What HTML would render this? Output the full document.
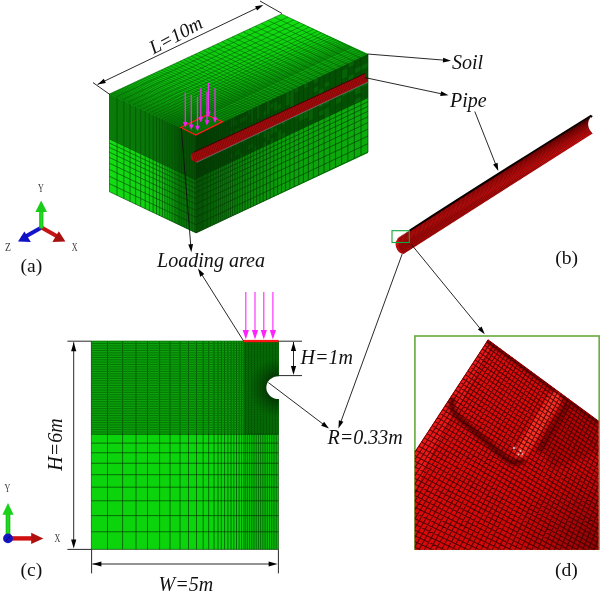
<!DOCTYPE html>
<html><head><meta charset="utf-8"><title>FE model of soil and pipe</title>
<style>html,body{margin:0;padding:0;background:#fff}svg{display:block}</style></head>
<body>
<svg width="600" height="606" viewBox="0 0 600 606">
<rect width="600" height="606" fill="#fff"/>
<defs>
<clipPath id="clipc"><rect x="91.4" y="341.2" width="187.2" height="208.2"/></clipPath>
<clipPath id="clipd"><rect x="415" y="336" width="184.4" height="213"/></clipPath>
<clipPath id="clipdd"><polygon points="488,339.6 598.4,420.8 598.4,549.8 414.9,549.8 414.9,451.5"/></clipPath>
<radialGradient id="holeg"><stop offset="0.38" stop-color="#033003" stop-opacity="0.85"/><stop offset="1" stop-color="#044004" stop-opacity="0"/></radialGradient>
<linearGradient id="topg" gradientUnits="userSpaceOnUse" x1="281.5" y1="14" x2="313" y2="80.9"><stop offset="0" stop-color="#056005" stop-opacity="0"/><stop offset="0.4" stop-color="#056005" stop-opacity="0.06"/><stop offset="0.7" stop-color="#056005" stop-opacity="0.3"/><stop offset="1" stop-color="#056005" stop-opacity="0.5"/></linearGradient>
<linearGradient id="topg2" gradientUnits="userSpaceOnUse" x1="109.5" y1="94" x2="171.9" y2="-37.9"><stop offset="0" stop-color="#087808" stop-opacity="0.42"/><stop offset="0.5" stop-color="#087808" stop-opacity="0.22"/><stop offset="1" stop-color="#087808" stop-opacity="0"/></linearGradient>
<linearGradient id="leftg" gradientUnits="userSpaceOnUse" x1="109" y1="0" x2="196" y2="0"><stop offset="0" stop-color="#043004" stop-opacity="0"/><stop offset="0.4" stop-color="#043004" stop-opacity="0.06"/><stop offset="0.78" stop-color="#043004" stop-opacity="0.26"/><stop offset="0.83" stop-color="#043004" stop-opacity="0.46"/><stop offset="1" stop-color="#043004" stop-opacity="0.52"/></linearGradient>
<linearGradient id="frontg" gradientUnits="userSpaceOnUse" x1="196" y1="0" x2="368" y2="0"><stop offset="0" stop-color="#043004" stop-opacity="0.5"/><stop offset="0.25" stop-color="#043004" stop-opacity="0.3"/><stop offset="0.55" stop-color="#043004" stop-opacity="0.08"/><stop offset="1" stop-color="#043004" stop-opacity="0"/></linearGradient>
<linearGradient id="pipeg" gradientUnits="userSpaceOnUse" x1="490" y1="172" x2="500" y2="190"><stop offset="0" stop-color="#2a0000"/><stop offset="0.22" stop-color="#8a0606"/><stop offset="0.5" stop-color="#c00c0c"/><stop offset="0.8" stop-color="#d21010"/><stop offset="1" stop-color="#b20a0a"/></linearGradient>
<linearGradient id="dg1" gradientUnits="userSpaceOnUse" x1="415" y1="336" x2="600" y2="549"><stop offset="0" stop-color="#ea1010"/><stop offset="0.5" stop-color="#d80b0b"/><stop offset="1" stop-color="#ca0707"/></linearGradient>
<radialGradient id="dg2" gradientUnits="userSpaceOnUse" cx="600" cy="549" r="90"><stop offset="0" stop-color="#5a0000" stop-opacity="0.55"/><stop offset="1" stop-color="#5a0000" stop-opacity="0"/></radialGradient>
<linearGradient id="gsh" gradientUnits="userSpaceOnUse" x1="39" y1="0" x2="43.6" y2="0"><stop offset="0" stop-color="#12b012"/><stop offset="0.5" stop-color="#22e422"/><stop offset="1" stop-color="#12b012"/></linearGradient>
<linearGradient id="gsh2" gradientUnits="userSpaceOnUse" x1="5.6" y1="0" x2="10.4" y2="0"><stop offset="0" stop-color="#12b012"/><stop offset="0.5" stop-color="#22e422"/><stop offset="1" stop-color="#12b012"/></linearGradient>
<filter id="blur15" x="-30%" y="-30%" width="160%" height="160%"><feGaussianBlur stdDeviation="1.6"/></filter>
<filter id="blur1" x="-20%" y="-20%" width="140%" height="140%"><feGaussianBlur stdDeviation="1.2"/></filter>
<filter id="blur2" x="-30%" y="-30%" width="160%" height="160%"><feGaussianBlur stdDeviation="2.2"/></filter>
</defs>
<g id="meshc">
<rect x="91.4" y="341.2" width="187.2" height="208.2" fill="#0cd40c"/>
<rect x="91.4" y="341.2" width="187.2" height="93.07" fill="#0ba20b"/>
<path d="M91.4 341.2V549.4M107.5 341.2V549.4M122.6 341.2V549.4M136 341.2V549.4M147.5 341.2V549.4M159.6 341.2V549.4M170 341.2V549.4M180 341.2V549.4M188.5 341.2V549.4M196.5 341.2V549.4M203.2 341.2V549.4M208.7 341.2V549.4M214 341.2V549.4M218 341.2V549.4M221.3 341.2V549.4M224.6 341.2V549.4M227.9 341.2V549.4M231 341.2V549.4M233.8 341.2V549.4M236.5 341.2V549.4M239.1 341.2V549.4M241.6 341.2V549.4M244 341.2V549.4M245.82 434.27V549.4M247.64 434.27V549.4M249.46 434.27V549.4M251.28 434.27V549.4M253.11 434.27V549.4M254.93 434.27V549.4M256.75 434.27V549.4M258.57 434.27V549.4M260.39 434.27V549.4M262.21 434.27V549.4M264.03 434.27V549.4M265.85 434.27V549.4M267.67 434.27V549.4M269.49 434.27V549.4M271.32 434.27V549.4M273.14 434.27V549.4M274.96 434.27V549.4M276.78 434.27V549.4M278.6 434.27V549.4M245.5 341.2V434.27M247.01 341.2V434.27M248.51 341.2V434.27M250.02 341.2V434.27M251.52 341.2V434.27M253.03 341.2V434.27M254.53 341.2V434.27M256.03 341.2V434.27M257.54 341.2V434.27M259.04 341.2V434.27M260.55 341.2V434.27M262.05 341.2V434.27M263.56 341.2V434.27M265.06 341.2V434.27M266.57 341.2V434.27M268.07 341.2V434.27M269.57 341.2V434.27M271.08 341.2V434.27M272.58 341.2V434.27M274.09 341.2V434.27M275.59 341.2V434.27M277.1 341.2V434.27M278.6 341.2V434.27M91.4 434.27H278.6M91.4 443.11H278.6M91.4 452.75H278.6M91.4 463.25H278.6M91.4 474.7H278.6M91.4 487.18H278.6M91.4 500.79H278.6M91.4 515.62H278.6M91.4 531.78H278.6M91.4 549.4H278.6" stroke="#012a01" stroke-width="0.62" fill="none"/>
<path d="M91.4 341.2l187.2 0M91.4 343.53l187.2 0M91.4 345.85l187.2 0M91.4 348.18l187.2 0M91.4 350.51l187.2 0M91.4 352.83l187.2 0M91.4 355.16l187.2 0M91.4 357.49l187.2 0M91.4 359.81l187.2 0M91.4 362.14l187.2 0M91.4 364.47l187.2 0M91.4 366.79l187.2 0M91.4 369.12l187.2 0M91.4 371.45l187.2 0M91.4 373.77l187.2 0M91.4 376.1l187.2 0M91.4 378.43l187.2 0M91.4 380.75l187.2 0M91.4 383.08l187.2 0M91.4 385.41l187.2 0M91.4 387.73l187.2 0M91.4 390.06l187.2 0M91.4 392.39l187.2 0M91.4 394.71l187.2 0M91.4 397.04l187.2 0M91.4 399.37l187.2 0M91.4 401.69l187.2 0M91.4 404.02l187.2 0M91.4 406.35l187.2 0M91.4 408.67l187.2 0M91.4 411l187.2 0M91.4 413.33l187.2 0M91.4 415.65l187.2 0M91.4 417.98l187.2 0M91.4 420.31l187.2 0M91.4 422.63l187.2 0M91.4 424.96l187.2 0M91.4 427.29l187.2 0M91.4 429.61l187.2 0M91.4 431.94l187.2 0" stroke="#067606" stroke-width="1" fill="none"/>
<rect x="244" y="341.2" width="34.6" height="93.07" fill="#022802" opacity="0.2"/>
<ellipse cx="278.6" cy="387.6" rx="30" ry="30" fill="url(#holeg)" clip-path="url(#clipc)"/>
<ellipse cx="278.6" cy="387.6" rx="12.3" ry="11.4" fill="#fff"/>
<rect x="279" y="340.2" width="14" height="210.2" fill="#fff"/>
</g>
<rect x="243.8" y="339.9" width="34.8" height="2.3" fill="#ff1515"/>
<path d="M245.8 292V332" stroke="#ff22ff" stroke-width="1.1" fill="none"/>
<path d="M245.8 339.6l-3.1 -9.6h6.2z" fill="#ff22ff"/>
<path d="M255 292V332" stroke="#ff22ff" stroke-width="1.1" fill="none"/>
<path d="M255 339.6l-3.1 -9.6h6.2z" fill="#ff22ff"/>
<path d="M263.8 292V332" stroke="#ff22ff" stroke-width="1.1" fill="none"/>
<path d="M263.8 339.6l-3.1 -9.6h6.2z" fill="#ff22ff"/>
<path d="M272.9 292V332" stroke="#ff22ff" stroke-width="1.1" fill="none"/>
<path d="M272.9 339.6l-3.1 -9.6h6.2z" fill="#ff22ff"/>
<g id="box">
<polygon points="109.5,94 196,135 368,54 281.5,14" fill="#12e212"/>
<polygon points="109.5,94 196,135 368,54 281.5,14" fill="url(#topg)"/>
<polygon points="109.5,94 196,135 368,54 281.5,14" fill="url(#topg2)"/>
<path d="M109.5 94l172 -80M115.95 97.06l172 -80M121.92 99.89l172 -80M127.44 102.5l172 -80M132.54 104.92l172 -80M137.27 107.16l172 -80M141.64 109.23l172 -80M145.68 111.15l172 -80M149.42 112.92l172 -80M152.87 114.56l172 -80M156.07 116.07l172 -80M159.03 117.48l172 -80M161.77 118.77l172 -80M164.3 119.97l172 -80M166.64 121.08l172 -80M168.81 122.11l172 -80M170.81 123.06l172 -80M172.66 123.94l172 -80M174.38 124.75l172 -80M175.96 125.5l172 -80M177.43 126.2l172 -80M178.79 126.84l172 -80M180.04 127.44l172 -80M182.7 128.7l172 -80M185.36 129.96l172 -80M188.02 131.22l172 -80M190.68 132.48l172 -80M193.34 133.74l172 -80M196 135l172 -80M109.5 94l86.5 41M110.48 93.54l86.5 41M111.5 93.07l86.5 41M112.55 92.58l86.5 41M113.65 92.07l86.5 41M114.78 91.54l86.5 41M115.95 91l86.5 41M117.17 90.43l86.5 41M118.43 89.85l86.5 41M119.73 89.24l86.5 41M121.09 88.61l86.5 41M122.49 87.96l86.5 41M123.94 87.28l86.5 41M125.45 86.58l86.5 41M127.01 85.86l86.5 41M128.63 85.1l86.5 41M130.3 84.32l86.5 41M132.04 83.52l86.5 41M133.84 82.68l86.5 41M135.7 81.81l86.5 41M137.63 80.91l86.5 41M139.64 79.98l86.5 41M141.71 79.02l86.5 41M143.86 78.02l86.5 41M146.09 76.98l86.5 41M148.4 75.91l86.5 41M150.79 74.79l86.5 41M153.27 73.64l86.5 41M155.84 72.45l86.5 41M158.5 71.21l86.5 41M161.26 69.92l86.5 41M164.12 68.59l86.5 41M167.08 67.22l86.5 41M170.16 65.79l86.5 41M173.34 64.31l86.5 41M176.63 62.77l86.5 41M180.05 61.19l86.5 41M183.59 59.54l86.5 41M187.26 57.83l86.5 41M191.06 56.06l86.5 41M195 54.23l86.5 41M199.09 52.33l86.5 41M203.32 50.36l86.5 41M207.7 48.32l86.5 41M212.25 46.21l86.5 41M216.95 44.02l86.5 41M221.83 41.75l86.5 41M226.89 39.4l86.5 41M232.13 36.96l86.5 41M237.56 34.44l86.5 41M243.19 31.82l86.5 41M249.02 29.11l86.5 41M255.06 26.3l86.5 41M261.32 23.39l86.5 41M267.81 20.37l86.5 41M274.53 17.24l86.5 41M281.5 14l86.5 41" stroke="#045004" stroke-width="0.5" fill="none"/>
<polygon points="109.5,94 196,135 196,233 109.5,191.8" fill="#14dc14"/>
<polygon points="109.5,94 196,135 196,180.08 109.5,138.99" fill="#0a800a"/>
<path d="M109.5 94l0 97.8M117.04 97.57l0 97.8M123.86 100.81l0 97.8M130.04 103.74l0 97.8M135.63 106.38l0 97.8M140.69 108.78l0 97.8M145.26 110.95l0 97.8M149.41 112.92l0 97.8M153.16 114.69l0 97.8M156.55 116.3l0 97.8M159.62 117.76l0 97.8M162.4 119.07l0 97.8M164.91 120.26l0 97.8M167.19 121.34l0 97.8M169.25 122.32l0 97.8M171.11 123.2l0 97.8M172.8 124l0 97.8M174.33 124.73l0 97.8M175.71 125.38l0 97.8M176.96 125.97l0 97.8M178.09 126.51l0 97.8M179.11 127l0 97.8M180.04 127.44l0 97.8M181.64 128.19l0 97.8M183.23 128.95l0 97.8M184.83 129.7l0 97.8M186.42 130.46l0 97.8M188.02 131.22l0 97.8M189.62 131.97l0 97.8M191.21 132.73l0 97.8M192.81 133.49l0 97.8M194.4 134.24l0 97.8M196 135l0 97.8M109.5 138.99l86.5 41M109.5 143.04l86.5 41M109.5 147.46l86.5 41M109.5 152.28l86.5 41M109.5 157.54l86.5 41M109.5 163.26l86.5 41M109.5 169.5l86.5 41M109.5 176.3l86.5 41M109.5 183.72l86.5 41M109.5 191.8l86.5 41" stroke="#044804" stroke-width="0.65" fill="none"/>
<path d="M109.5 94l86.5 41M109.5 96.25l86.5 41M109.5 98.5l86.5 41M109.5 100.75l86.5 41M109.5 103l86.5 41M109.5 105.25l86.5 41M109.5 107.5l86.5 41M109.5 109.75l86.5 41M109.5 112l86.5 41M109.5 114.24l86.5 41M109.5 116.49l86.5 41M109.5 118.74l86.5 41M109.5 120.99l86.5 41M109.5 123.24l86.5 41M109.5 125.49l86.5 41M109.5 127.74l86.5 41M109.5 129.99l86.5 41M109.5 132.24l86.5 41M109.5 134.49l86.5 41M109.5 136.74l86.5 41" stroke="#056005" stroke-width="0.5" fill="none" opacity="0.6"/>
<polygon points="109.5,94 196,135 196,233 109.5,191.8" fill="url(#leftg)"/>
<polygon points="196,135 368,54 368,153 196,233" fill="#0cac0c"/>
<polygon points="196,135 368,54 368,97.61 196,178.61" fill="#045204"/>
<path d="M230.36 118.82L232.59 117.77L232.59 122.13L230.36 123.18ZM230.36 123.18L232.59 122.13L232.59 126.49L230.36 127.54ZM230.36 131.9L232.59 130.85L232.59 135.21L230.36 136.26ZM230.36 144.98L232.59 143.93L232.59 148.3L230.36 149.35ZM230.36 153.71L232.59 152.66L232.59 157.02L230.36 158.07ZM232.59 117.77L234.9 116.68L234.9 121.04L232.59 122.13ZM232.59 122.13L234.9 121.04L234.9 125.4L232.59 126.49ZM232.59 135.21L234.9 134.13L234.9 138.49L232.59 139.57ZM232.59 139.57L234.9 138.49L234.9 142.85L232.59 143.93ZM234.9 121.04L237.29 119.92L237.29 124.28L234.9 125.4ZM234.9 129.76L237.29 128.64L237.29 133L234.9 134.13ZM234.9 134.13L237.29 133L237.29 137.36L234.9 138.49ZM234.9 138.49L237.29 137.36L237.29 141.72L234.9 142.85ZM234.9 142.85L237.29 141.72L237.29 146.08L234.9 147.21ZM234.9 151.57L237.29 150.44L237.29 154.8L234.9 155.93ZM237.29 128.64L239.77 127.47L239.77 131.83L237.29 133ZM237.29 133L239.77 131.83L239.77 136.19L237.29 137.36ZM237.29 137.36L239.77 136.19L239.77 140.55L237.29 141.72ZM237.29 150.44L239.77 149.27L239.77 153.64L237.29 154.8ZM239.77 118.75L242.34 117.54L242.34 121.9L239.77 123.11ZM239.77 131.83L242.34 130.62L242.34 134.98L239.77 136.19ZM239.77 153.64L242.34 152.43L242.34 156.79L239.77 158ZM242.34 117.54L245 116.28L245 120.64L242.34 121.9ZM242.34 130.62L245 129.37L245 133.73L242.34 134.98ZM242.34 139.34L245 138.09L245 142.45L242.34 143.7ZM245 116.28L247.76 114.98L247.76 119.35L245 120.64ZM247.76 110.62L250.62 109.28L250.62 113.64L247.76 114.98ZM247.76 132.43L250.62 131.08L250.62 135.44L247.76 136.79ZM247.76 145.51L250.62 144.16L250.62 148.53L247.76 149.87ZM250.62 109.28L253.58 107.88L253.58 112.24L250.62 113.64ZM250.62 113.64L253.58 112.24L253.58 116.6L250.62 118ZM250.62 118L253.58 116.6L253.58 120.96L250.62 122.36ZM250.62 126.72L253.58 125.33L253.58 129.69L250.62 131.08ZM250.62 131.08L253.58 129.69L253.58 134.05L250.62 135.44ZM250.62 144.16L253.58 142.77L253.58 147.13L250.62 148.53ZM253.58 125.33L256.66 123.88L256.66 128.24L253.58 129.69ZM253.58 147.13L256.66 145.68L256.66 150.05L253.58 151.49ZM256.66 106.44L259.84 104.94L259.84 109.3L256.66 110.8ZM256.66 110.8L259.84 109.3L259.84 113.66L256.66 115.16ZM256.66 115.16L259.84 113.66L259.84 118.02L256.66 119.52ZM256.66 128.24L259.84 126.74L259.84 131.1L256.66 132.6ZM256.66 132.6L259.84 131.1L259.84 135.46L256.66 136.96ZM259.84 126.74L263.13 125.19L263.13 129.55L259.84 131.1ZM263.13 112.11L266.55 110.5L266.55 114.86L263.13 116.47ZM263.13 120.83L266.55 119.22L266.55 123.58L263.13 125.19ZM263.13 125.19L266.55 123.58L266.55 127.94L263.13 129.55ZM263.13 129.55L266.55 127.94L266.55 132.3L263.13 133.91ZM263.13 133.91L266.55 132.3L266.55 136.66L263.13 138.27ZM263.13 142.63L266.55 141.02L266.55 145.39L263.13 146.99ZM266.55 101.78L270.09 100.11L270.09 104.47L266.55 106.14ZM266.55 106.14L270.09 104.47L270.09 108.83L266.55 110.5ZM266.55 110.5L270.09 108.83L270.09 113.19L266.55 114.86ZM266.55 119.22L270.09 117.55L270.09 121.91L266.55 123.58ZM266.55 132.3L270.09 130.63L270.09 135L266.55 136.66ZM266.55 136.66L270.09 135L270.09 139.36L266.55 141.02ZM270.09 104.47L273.76 102.74L273.76 107.1L270.09 108.83ZM270.09 126.27L273.76 124.55L273.76 128.91L270.09 130.63ZM270.09 130.63L273.76 128.91L273.76 133.27L270.09 135ZM270.09 139.36L273.76 137.63L273.76 141.99L270.09 143.72ZM273.76 102.74L277.56 100.95L277.56 105.31L273.76 107.1ZM273.76 107.1L277.56 105.31L277.56 109.67L273.76 111.46ZM273.76 120.18L277.56 118.39L277.56 122.76L273.76 124.55ZM273.76 128.91L277.56 127.12L277.56 131.48L273.76 133.27ZM277.56 105.31L281.5 103.46L281.5 107.82L277.56 109.67ZM277.56 114.03L281.5 112.18L281.5 116.54L277.56 118.39ZM277.56 131.48L281.5 129.62L281.5 133.98L277.56 135.84ZM277.56 135.84L281.5 133.98L281.5 138.34L277.56 140.2ZM281.5 120.9L285.59 118.98L285.59 123.34L281.5 125.26ZM281.5 133.98L285.59 132.06L285.59 136.42L281.5 138.34ZM285.59 92.81L289.82 90.82L289.82 95.18L285.59 97.17ZM285.59 97.17L289.82 95.18L289.82 99.54L285.59 101.53ZM285.59 101.53L289.82 99.54L289.82 103.9L285.59 105.89ZM289.82 90.82L294.2 88.75L294.2 93.11L289.82 95.18ZM289.82 95.18L294.2 93.11L294.2 97.48L289.82 99.54ZM289.82 99.54L294.2 97.48L294.2 101.84L289.82 103.9ZM289.82 103.9L294.2 101.84L294.2 106.2L289.82 108.26ZM294.2 88.75L298.75 86.61L298.75 90.97L294.2 93.11ZM294.2 114.92L298.75 112.78L298.75 117.14L294.2 119.28ZM298.75 108.42L303.45 106.2L303.45 110.56L298.75 112.78ZM298.75 112.78L303.45 110.56L303.45 114.92L298.75 117.14ZM298.75 117.14L303.45 114.92L303.45 119.28L298.75 121.5ZM303.45 84.4L308.33 82.1L308.33 86.46L303.45 88.76ZM303.45 110.56L308.33 108.26L308.33 112.63L303.45 114.92ZM303.45 114.92L308.33 112.63L308.33 116.99L303.45 119.28ZM308.33 103.9L313.39 101.52L313.39 105.88L308.33 108.26ZM308.33 108.26L313.39 105.88L313.39 110.24L308.33 112.63ZM308.33 112.63L313.39 110.24L313.39 114.61L308.33 116.99ZM308.33 116.99L313.39 114.61L313.39 118.97L308.33 121.35ZM313.39 79.72L318.63 77.25L318.63 81.61L313.39 84.08ZM313.39 88.44L318.63 85.97L318.63 90.33L313.39 92.8ZM318.63 90.33L324.06 87.78L324.06 92.14L318.63 94.69ZM318.63 99.05L324.06 96.5L324.06 100.86L318.63 103.42ZM318.63 103.42L324.06 100.86L324.06 105.22L318.63 107.78ZM318.63 112.14L324.06 109.58L324.06 113.94L318.63 116.5ZM324.06 83.41L329.69 80.77L329.69 85.13L324.06 87.78ZM324.06 100.86L329.69 98.21L329.69 102.57L324.06 105.22ZM324.06 109.58L329.69 106.93L329.69 111.29L324.06 113.94ZM324.06 113.94L329.69 111.29L329.69 115.65L324.06 118.3ZM335.52 99.82L341.56 96.98L341.56 101.34L335.52 104.19ZM341.56 70.81L347.82 67.86L347.82 72.23L341.56 75.17ZM341.56 75.17L347.82 72.23L347.82 76.59L341.56 79.53ZM341.56 83.9L347.82 80.95L347.82 85.31L341.56 88.26ZM341.56 88.26L347.82 85.31L347.82 89.67L341.56 92.62ZM341.56 92.62L347.82 89.67L347.82 94.03L341.56 96.98ZM347.82 63.5L354.31 60.45L354.31 64.81L347.82 67.86ZM347.82 76.59L354.31 73.53L354.31 77.89L347.82 80.95ZM347.82 89.67L354.31 86.61L354.31 90.97L347.82 94.03ZM354.31 69.17L361.03 66L361.03 70.36L354.31 73.53ZM354.31 86.61L361.03 83.45L361.03 87.81L354.31 90.97ZM354.31 90.97L361.03 87.81L361.03 92.17L354.31 95.34ZM354.31 99.7L361.03 96.53L361.03 100.89L354.31 104.06ZM361.03 66L368 62.72L368 67.08L361.03 70.36ZM361.03 83.45L368 80.17L368 84.53L361.03 87.81Z" fill="#0c8c0c" opacity="0.38"/>
<path d="M196 135l0 98M196.98 134.54l0 98M198 134.06l0 98M199.05 133.56l0 98M200.15 133.05l0 98M201.28 132.51l0 98M202.45 131.96l0 98M203.67 131.39l0 98M204.93 130.8l0 98M206.23 130.18l0 98M207.59 129.54l0 98M208.99 128.88l0 98M210.44 128.2l0 98M211.95 127.49l0 98M213.51 126.75l0 98M215.13 125.99l0 98M216.8 125.2l0 98M218.54 124.39l0 98M220.34 123.54l0 98M222.2 122.66l0 98M224.13 121.75l0 98M226.14 120.81l0 98M228.21 119.83l0 98M230.36 118.82l0 98M232.59 117.77l0 98M234.9 116.68l0 98M237.29 115.55l0 98M239.77 114.39l0 98M242.34 113.18l0 98M245 111.92l0 98M247.76 110.62l0 98M250.62 109.28l0 98M253.58 107.88l0 98M256.66 106.44l0 98M259.84 104.94l0 98M263.13 103.38l0 98M266.55 101.78l0 98M270.09 100.11l0 98M273.76 98.38l0 98M277.56 96.59l0 98M281.5 94.73l0 98M285.59 92.81l0 98M289.82 90.82l0 98M294.2 88.75l0 98M298.75 86.61l0 98M303.45 84.4l0 98M308.33 82.1l0 98M313.39 79.72l0 98M318.63 77.25l0 98M324.06 74.69l0 98M329.69 72.04l0 98M335.52 69.3l0 98M341.56 66.45l0 98M347.82 63.5l0 98M354.31 60.45l0 98M361.03 57.28l0 98M368 54l0 98M196 178.61l172 -81M196 182.79l172 -81M196 187.34l172 -81M196 192.3l172 -81M196 197.71l172 -81M196 203.61l172 -81M196 210.04l172 -81M196 217.04l172 -81M196 224.68l172 -81M196 233l172 -81" stroke="#033c03" stroke-width="0.65" fill="none"/>
<path d="M196 135l172 -81M196 137.18l172 -81M196 139.36l172 -81M196 141.54l172 -81M196 143.72l172 -81M196 145.9l172 -81M196 148.08l172 -81M196 150.26l172 -81M196 152.44l172 -81M196 154.62l172 -81M196 156.81l172 -81M196 158.99l172 -81M196 161.17l172 -81M196 163.35l172 -81M196 165.53l172 -81M196 167.71l172 -81M196 169.89l172 -81M196 172.07l172 -81M196 174.25l172 -81M196 176.43l172 -81" stroke="#044a04" stroke-width="0.5" fill="none" opacity="0.5"/>
<polygon points="196,135 368,54 368,153 196,233" fill="url(#frontg)"/>
<path d="M196.5 162.2 L368 81.9 L365 73.6 L194 152.2 Q189.8 154.2 191 158.4 Q192.5 161.6 196.5 162.2Z" fill="#aa0e0e"/>
<path d="M194 152.2 L365 73.6" stroke="#200" stroke-width="1" fill="none" opacity="0.75"/>
<path d="M196.5 162.4 L368 82.1" stroke="#7a7a8a" stroke-width="0.7" fill="none"/>
<path d="M195 161.8l-2.6 -9.4M196.58 161.07l-2.6 -9.39M198.16 160.33l-2.6 -9.38M199.73 159.6l-2.6 -9.37M201.31 158.86l-2.6 -9.36M202.89 158.13l-2.6 -9.34M204.47 157.4l-2.6 -9.33M206.05 156.66l-2.6 -9.32M207.62 155.93l-2.6 -9.31M209.2 155.19l-2.6 -9.3M210.78 154.46l-2.6 -9.29M212.36 153.73l-2.6 -9.28M213.94 152.99l-2.6 -9.27M215.51 152.26l-2.6 -9.26M217.09 151.52l-2.6 -9.25M218.67 150.79l-2.6 -9.23M220.25 150.06l-2.6 -9.22M221.83 149.32l-2.6 -9.21M223.4 148.59l-2.6 -9.2M224.98 147.86l-2.6 -9.19M226.56 147.12l-2.6 -9.18M228.14 146.39l-2.6 -9.17M229.72 145.65l-2.6 -9.16M231.29 144.92l-2.6 -9.15M232.87 144.19l-2.6 -9.14M234.45 143.45l-2.6 -9.12M236.03 142.72l-2.6 -9.11M237.61 141.98l-2.6 -9.1M239.18 141.25l-2.6 -9.09M240.76 140.52l-2.6 -9.08M242.34 139.78l-2.6 -9.07M243.92 139.05l-2.6 -9.06M245.5 138.31l-2.6 -9.05M247.07 137.58l-2.6 -9.04M248.65 136.85l-2.6 -9.03M250.23 136.11l-2.6 -9.01M251.81 135.38l-2.6 -9M253.39 134.64l-2.6 -8.99M254.96 133.91l-2.6 -8.98M256.54 133.18l-2.6 -8.97M258.12 132.44l-2.6 -8.96M259.7 131.71l-2.6 -8.95M261.28 130.97l-2.6 -8.94M262.85 130.24l-2.6 -8.93M264.43 129.51l-2.6 -8.92M266.01 128.77l-2.6 -8.9M267.59 128.04l-2.6 -8.89M269.17 127.3l-2.6 -8.88M270.74 126.57l-2.6 -8.87M272.32 125.84l-2.6 -8.86M273.9 125.1l-2.6 -8.85M275.48 124.37l-2.6 -8.84M277.06 123.63l-2.6 -8.83M278.63 122.9l-2.6 -8.82M280.21 122.17l-2.6 -8.81M281.79 121.43l-2.6 -8.79M283.37 120.7l-2.6 -8.78M284.94 119.97l-2.6 -8.77M286.52 119.23l-2.6 -8.76M288.1 118.5l-2.6 -8.75M289.68 117.76l-2.6 -8.74M291.26 117.03l-2.6 -8.73M292.83 116.3l-2.6 -8.72M294.41 115.56l-2.6 -8.71M295.99 114.83l-2.6 -8.7M297.57 114.09l-2.6 -8.68M299.15 113.36l-2.6 -8.67M300.72 112.63l-2.6 -8.66M302.3 111.89l-2.6 -8.65M303.88 111.16l-2.6 -8.64M305.46 110.42l-2.6 -8.63M307.04 109.69l-2.6 -8.62M308.61 108.96l-2.6 -8.61M310.19 108.22l-2.6 -8.6M311.77 107.49l-2.6 -8.59M313.35 106.75l-2.6 -8.57M314.93 106.02l-2.6 -8.56M316.5 105.29l-2.6 -8.55M318.08 104.55l-2.6 -8.54M319.66 103.82l-2.6 -8.53M321.24 103.08l-2.6 -8.52M322.82 102.35l-2.6 -8.51M324.39 101.62l-2.6 -8.5M325.97 100.88l-2.6 -8.49M327.55 100.15l-2.6 -8.48M329.13 99.41l-2.6 -8.46M330.71 98.68l-2.6 -8.45M332.28 97.95l-2.6 -8.44M333.86 97.21l-2.6 -8.43M335.44 96.48l-2.6 -8.42M337.02 95.74l-2.6 -8.41M338.6 95.01l-2.6 -8.4M340.17 94.28l-2.6 -8.39M341.75 93.54l-2.6 -8.38M343.33 92.81l-2.6 -8.37M344.91 92.08l-2.6 -8.35M346.49 91.34l-2.6 -8.34M348.06 90.61l-2.6 -8.33M349.64 89.87l-2.6 -8.32M351.22 89.14l-2.6 -8.31M352.8 88.41l-2.6 -8.3M354.38 87.67l-2.6 -8.29M355.95 86.94l-2.6 -8.28M357.53 86.2l-2.6 -8.27M359.11 85.47l-2.6 -8.26M360.69 84.74l-2.6 -8.24M362.27 84l-2.6 -8.23M363.84 83.27l-2.6 -8.22M365.42 82.53l-2.6 -8.21M367 81.8l-2.6 -8.2" stroke="#5a0303" stroke-width="0.5" fill="none"/>
</g>
<polygon points="180.8,127.5 195.8,135 222.5,121.7 206.7,115" fill="none" stroke="#ff1a1a" stroke-width="1.3"/>
<path d="M185.3 92.5V124.5" stroke="#f22cf2" stroke-width="1.25" fill="none"/>
<path d="M185.3 127.5l-2.4 -5.6h4.8z" fill="#f020f0"/>
<path d="M191.3 95V127" stroke="#f22cf2" stroke-width="1.25" fill="none"/>
<path d="M191.3 130l-2.4 -5.6h4.8z" fill="#f020f0"/>
<path d="M197.5 96.7V128.3" stroke="#f22cf2" stroke-width="1.25" fill="none"/>
<path d="M197.5 131.3l-2.4 -5.6h4.8z" fill="#f020f0"/>
<path d="M200.8 88.3V119.5" stroke="#f22cf2" stroke-width="1.25" fill="none"/>
<path d="M200.8 122.5l-2.4 -5.6h4.8z" fill="#f020f0"/>
<path d="M207 91.7V122.8" stroke="#f22cf2" stroke-width="1.25" fill="none"/>
<path d="M207 125.8l-2.4 -5.6h4.8z" fill="#f020f0"/>
<path d="M208.4 83V114" stroke="#f22cf2" stroke-width="1.25" fill="none"/>
<path d="M208.4 117l-2.4 -5.6h4.8z" fill="#f020f0"/>
<path d="M215 88.3V120" stroke="#f22cf2" stroke-width="1.25" fill="none"/>
<path d="M215 123l-2.4 -5.6h4.8z" fill="#f020f0"/>
<g id="pipeb">
<path d="M397.2 238.8 Q480 185 590.8 116.4 Q584.6 126 592.6 133.4 L403.5 254 Q398.5 254 396.2 247.5 Q394.6 242.5 397.2 239.5Z" fill="url(#pipeg)"/>
<path d="M404 253.6q-5.5 -5 -5 -16.8M405.26 252.79q-5.5 -5 -5 -16.79M406.52 251.99q-5.5 -5 -5 -16.77M407.79 251.18q-5.5 -5 -5 -16.76M409.05 250.38q-5.5 -5 -5 -16.74M410.31 249.57q-5.5 -5 -5 -16.73M411.57 248.77q-5.5 -5 -5 -16.71M412.83 247.96q-5.5 -5 -5 -16.7M414.09 247.16q-5.5 -5 -5 -16.68M415.36 246.35q-5.5 -5 -5 -16.67M416.62 245.55q-5.5 -5 -5 -16.65M417.88 244.74q-5.5 -5 -5 -16.64M419.14 243.94q-5.5 -5 -5 -16.62M420.4 243.13q-5.5 -5 -5 -16.61M421.66 242.32q-5.5 -5 -5 -16.59M422.93 241.52q-5.5 -5 -5 -16.58M424.19 240.71q-5.5 -5 -5 -16.56M425.45 239.91q-5.5 -5 -5 -16.55M426.71 239.1q-5.5 -5 -5 -16.53M427.97 238.3q-5.5 -5 -5 -16.52M429.23 237.49q-5.5 -5 -5 -16.5M430.5 236.69q-5.5 -5 -5 -16.49M431.76 235.88q-5.5 -5 -5 -16.48M433.02 235.08q-5.5 -5 -5 -16.46M434.28 234.27q-5.5 -5 -5 -16.45M435.54 233.47q-5.5 -5 -5 -16.43M436.81 232.66q-5.5 -5 -5 -16.42M438.07 231.86q-5.5 -5 -5 -16.4M439.33 231.05q-5.5 -5 -5 -16.39M440.59 230.24q-5.5 -5 -5 -16.37M441.85 229.44q-5.5 -5 -5 -16.36M443.11 228.63q-5.5 -5 -5 -16.34M444.38 227.83q-5.5 -5 -5 -16.33M445.64 227.02q-5.5 -5 -5 -16.31M446.9 226.22q-5.5 -5 -5 -16.3M448.16 225.41q-5.5 -5 -5 -16.28M449.42 224.61q-5.5 -5 -5 -16.27M450.68 223.8q-5.5 -5 -5 -16.25M451.95 223q-5.5 -5 -5 -16.24M453.21 222.19q-5.5 -5 -5 -16.22M454.47 221.39q-5.5 -5 -5 -16.21M455.73 220.58q-5.5 -5 -5 -16.19M456.99 219.77q-5.5 -5 -5 -16.18M458.26 218.97q-5.5 -5 -5 -16.17M459.52 218.16q-5.5 -5 -5 -16.15M460.78 217.36q-5.5 -5 -5 -16.14M462.04 216.55q-5.5 -5 -5 -16.12M463.3 215.75q-5.5 -5 -5 -16.11M464.56 214.94q-5.5 -5 -5 -16.09M465.83 214.14q-5.5 -5 -5 -16.08M467.09 213.33q-5.5 -5 -5 -16.06M468.35 212.53q-5.5 -5 -5 -16.05M469.61 211.72q-5.5 -5 -5 -16.03M470.87 210.92q-5.5 -5 -5 -16.02M472.13 210.11q-5.5 -5 -5 -16M473.4 209.3q-5.5 -5 -5 -15.99M474.66 208.5q-5.5 -5 -5 -15.97M475.92 207.69q-5.5 -5 -5 -15.96M477.18 206.89q-5.5 -5 -5 -15.94M478.44 206.08q-5.5 -5 -5 -15.93M479.7 205.28q-5.5 -5 -5 -15.91M480.97 204.47q-5.5 -5 -5 -15.9M482.23 203.67q-5.5 -5 -5 -15.88M483.49 202.86q-5.5 -5 -5 -15.87M484.75 202.06q-5.5 -5 -5 -15.86M486.01 201.25q-5.5 -5 -5 -15.84M487.28 200.45q-5.5 -5 -5 -15.83M488.54 199.64q-5.5 -5 -5 -15.81M489.8 198.83q-5.5 -5 -5 -15.8M491.06 198.03q-5.5 -5 -5 -15.78M492.32 197.22q-5.5 -5 -5 -15.77M493.58 196.42q-5.5 -5 -5 -15.75M494.85 195.61q-5.5 -5 -5 -15.74M496.11 194.81q-5.5 -5 -5 -15.72M497.37 194q-5.5 -5 -5 -15.71M498.63 193.2q-5.5 -5 -5 -15.69M499.89 192.39q-5.5 -5 -5 -15.68M501.15 191.59q-5.5 -5 -5 -15.66M502.42 190.78q-5.5 -5 -5 -15.65M503.68 189.98q-5.5 -5 -5 -15.63M504.94 189.17q-5.5 -5 -5 -15.62M506.2 188.37q-5.5 -5 -5 -15.6M507.46 187.56q-5.5 -5 -5 -15.59M508.72 186.75q-5.5 -5 -5 -15.57M509.99 185.95q-5.5 -5 -5 -15.56M511.25 185.14q-5.5 -5 -5 -15.54M512.51 184.34q-5.5 -5 -5 -15.53M513.77 183.53q-5.5 -5 -5 -15.52M515.03 182.73q-5.5 -5 -5 -15.5M516.3 181.92q-5.5 -5 -5 -15.49M517.56 181.12q-5.5 -5 -5 -15.47M518.82 180.31q-5.5 -5 -5 -15.46M520.08 179.51q-5.5 -5 -5 -15.44M521.34 178.7q-5.5 -5 -5 -15.43M522.6 177.9q-5.5 -5 -5 -15.41M523.87 177.09q-5.5 -5 -5 -15.4M525.13 176.28q-5.5 -5 -5 -15.38M526.39 175.48q-5.5 -5 -5 -15.37M527.65 174.67q-5.5 -5 -5 -15.35M528.91 173.87q-5.5 -5 -5 -15.34M530.17 173.06q-5.5 -5 -5 -15.32M531.44 172.26q-5.5 -5 -5 -15.31M532.7 171.45q-5.5 -5 -5 -15.29M533.96 170.65q-5.5 -5 -5 -15.28M535.22 169.84q-5.5 -5 -5 -15.26M536.48 169.04q-5.5 -5 -5 -15.25M537.74 168.23q-5.5 -5 -5 -15.23M539.01 167.43q-5.5 -5 -5 -15.22M540.27 166.62q-5.5 -5 -5 -15.21M541.53 165.81q-5.5 -5 -5 -15.19M542.79 165.01q-5.5 -5 -5 -15.18M544.05 164.2q-5.5 -5 -5 -15.16M545.32 163.4q-5.5 -5 -5 -15.15M546.58 162.59q-5.5 -5 -5 -15.13M547.84 161.79q-5.5 -5 -5 -15.12M549.1 160.98q-5.5 -5 -5 -15.1M550.36 160.18q-5.5 -5 -5 -15.09M551.62 159.37q-5.5 -5 -5 -15.07M552.89 158.57q-5.5 -5 -5 -15.06M554.15 157.76q-5.5 -5 -5 -15.04M555.41 156.96q-5.5 -5 -5 -15.03M556.67 156.15q-5.5 -5 -5 -15.01M557.93 155.34q-5.5 -5 -5 -15M559.19 154.54q-5.5 -5 -5 -14.98M560.46 153.73q-5.5 -5 -5 -14.97M561.72 152.93q-5.5 -5 -5 -14.95M562.98 152.12q-5.5 -5 -5 -14.94M564.24 151.32q-5.5 -5 -5 -14.92M565.5 150.51q-5.5 -5 -5 -14.91M566.77 149.71q-5.5 -5 -5 -14.9M568.03 148.9q-5.5 -5 -5 -14.88M569.29 148.1q-5.5 -5 -5 -14.87M570.55 147.29q-5.5 -5 -5 -14.85M571.81 146.49q-5.5 -5 -5 -14.84M573.07 145.68q-5.5 -5 -5 -14.82M574.34 144.88q-5.5 -5 -5 -14.81M575.6 144.07q-5.5 -5 -5 -14.79M576.86 143.26q-5.5 -5 -5 -14.78M578.12 142.46q-5.5 -5 -5 -14.76M579.38 141.65q-5.5 -5 -5 -14.75M580.64 140.85q-5.5 -5 -5 -14.73M581.91 140.04q-5.5 -5 -5 -14.72M583.17 139.24q-5.5 -5 -5 -14.7M584.43 138.43q-5.5 -5 -5 -14.69M585.69 137.63q-5.5 -5 -5 -14.67M586.95 136.82q-5.5 -5 -5 -14.66M588.21 136.02q-5.5 -5 -5 -14.64M589.48 135.21q-5.5 -5 -5 -14.63M590.74 134.41q-5.5 -5 -5 -14.61M592 133.6q-5.5 -5 -5 -14.6" stroke="#4a0202" stroke-width="0.6" fill="none" opacity="0.85"/>
<path d="M409 231 Q484 182.4 590.6 116 L592.2 116.9" stroke="#0a0000" stroke-width="2" fill="none"/>
<rect x="392" y="230.7" width="17.3" height="11.8" fill="none" stroke="#12a83a" stroke-width="1.1"/>
</g>
<g id="zoomd">
<rect x="414.9" y="336" width="184.3" height="213.2" fill="none" stroke="#70ad47" stroke-width="1.7"/>
<polygon points="488,339.6 598.4,420.8 598.4,549.8 414.9,549.8 414.9,451.5" fill="#d60c0c"/>
<g clip-path="url(#clipdd)">
<rect x="414" y="336" width="186" height="215" fill="url(#dg1)"/>
<rect x="414" y="336" width="186" height="215" fill="url(#dg2)"/>
<polygon points="488,339.6 494,345 433,453 414.9,494 414.9,451.5" fill="#f01c1c" opacity="0.8"/>
<path d="M494 345 L433 453 L415 494" stroke="#7a0303" stroke-width="1" fill="none" opacity="0.6"/>
<path d="M540 378 L600 421 L600 452 L552 470 L545 452 L566 404Z" fill="#a00606" opacity="0.6" filter="url(#blur2)"/>
<path d="M488 339.6 L600 422" stroke="#800303" stroke-width="8" fill="none" opacity="0.9" filter="url(#blur1)"/>
<path d="M453 398 Q449 409 458 417 L505 458 Q514 466 524 460" stroke="#640000" stroke-width="6" fill="none" opacity="0.9" filter="url(#blur15)"/>
<path d="M521 452 L555 398.5" stroke="#ff3026" stroke-width="13" stroke-linecap="round" fill="none" opacity="1" filter="url(#blur15)"/>
<path d="M539 452 L567.5 404" stroke="#7a0303" stroke-width="7" fill="none" opacity="0.85" filter="url(#blur15)"/>
<path d="M414 179L601 338.44M414 184.75L601 343.02M414 190.5L601 347.59M414 196.25L601 352.17M414 202L601 356.74M414 207.75L601 361.32M414 213.5L601 365.9M414 219.25L601 370.47M414 225L601 375.05M414 230.75L601 379.63M414 236.5L601 384.2M414 242.25L601 388.78M414 248L601 393.35M414 253.75L601 397.93M414 259.5L601 402.51M414 265.25L601 407.08M414 271L601 411.66M414 276.75L601 416.23M414 282.5L601 420.81M414 288.25L601 425.39M414 294L601 429.96M414 299.75L601 434.54M414 305.5L601 439.12M414 311.25L601 443.69M414 317L601 448.27M414 322.75L601 452.84M414 328.5L601 457.42M414 334.25L601 462M414 340L601 466.57M414 345.75L601 471.15M414 351.5L601 475.72M414 357.25L601 480.3M414 363L601 484.88M414 368.75L601 489.45M414 374.5L601 494.03M414 380.25L601 498.61M414 386L601 503.18M414 391.75L601 507.76M414 397.5L601 512.33M414 403.25L601 516.91M414 409L601 521.49M414 414.75L601 526.06M414 420.5L601 530.64M414 426.25L601 535.21M414 432L601 539.79M414 437.75L601 544.37M414 443.5L601 548.94M414 449.25L601 553.52M414 455L601 558.09M414 460.75L601 562.67M414 466.5L601 567.25M414 472.25L601 571.82M414 478L601 576.4M414 483.75L601 580.98M414 489.5L601 585.55M414 495.25L601 590.13M414 501L601 594.7M414 506.75L601 599.28M414 512.5L601 603.86M414 518.25L601 608.43M414 524L601 613.01M414 529.75L601 617.58M414 535.5L601 622.16M414 541.25L601 626.74M414 547L601 631.31M414 552.75L601 635.89M414 558.5L601 640.47M414 564.25L601 645.04M414 570L601 649.62M414 575.75L601 654.19M414 581.5L601 658.77M414 587.25L601 663.35M414 593L601 667.92M414 598.75L601 672.5M414 604.5L601 677.07M414 610.25L601 681.65M414 616L601 686.23M414 621.75L601 690.8M414 627.5L601 695.38M414 633.25L601 699.96M414 639L601 704.53M414 644.75L601 709.11M414 650.5L601 713.68M414 656.25L601 718.26M414 662L601 722.84M414 667.75L601 727.41M414 673.5L601 731.99M414 679.25L601 736.56M414 685L601 741.14M414 690.75L601 745.72M414 696.5L601 750.29M414 702.25L601 754.87M414 708L601 759.45M414 713.75L601 764.02M414 719.5L601 768.6M414 725.25L601 773.17M414 731L601 777.75M414 736.75L601 782.33M254.8 550L416.95 335M260.45 550L421.31 335M266.1 550L425.68 335M271.75 550L430.05 335M277.4 550L434.42 335M283.05 550L438.78 335M288.7 550L443.15 335M294.35 550L447.52 335M300 550L451.88 335M305.65 550L456.25 335M311.3 550L460.62 335M316.95 550L464.99 335M322.6 550L469.35 335M328.25 550L473.72 335M333.9 550L478.09 335M339.55 550L482.46 335M345.2 550L486.82 335M350.85 550L491.19 335M356.5 550L495.56 335M362.15 550L499.92 335M367.8 550L504.29 335M373.45 550L508.66 335M379.1 550L513.03 335M384.75 550L517.39 335M390.4 550L521.76 335M396.05 550L526.13 335M401.7 550L530.5 335M407.35 550L534.86 335M413 550L539.23 335M418.65 550L543.6 335M424.3 550L547.96 335M429.95 550L552.33 335M435.6 550L556.7 335M441.25 550L561.07 335M446.9 550L565.43 335M452.55 550L569.8 335M458.2 550L574.17 335M463.85 550L578.54 335M469.5 550L582.9 335M475.15 550L587.27 335M480.8 550L591.64 335M486.45 550L596 335M492.1 550L600.37 335M497.75 550L604.74 335M503.4 550L609.11 335M509.05 550L613.47 335M514.7 550L617.84 335M520.35 550L622.21 335M526 550L626.58 335M531.65 550L630.94 335M537.3 550L635.31 335M542.95 550L639.68 335M548.6 550L644.04 335M554.25 550L648.41 335M559.9 550L652.78 335M565.55 550L657.15 335M571.2 550L661.51 335M576.85 550L665.88 335M582.5 550L670.25 335M588.15 550L674.62 335M593.8 550L678.98 335M599.45 550L683.35 335M605.1 550L687.72 335M610.75 550L692.08 335M616.4 550L696.45 335M622.05 550L700.82 335M627.7 550L705.19 335M633.35 550L709.55 335M639 550L713.92 335M644.65 550L718.29 335M650.3 550L722.66 335M655.95 550L727.02 335M661.6 550L731.39 335M667.25 550L735.76 335M672.9 550L740.12 335M678.55 550L744.49 335M684.2 550L748.86 335M689.85 550L753.23 335M695.5 550L757.59 335" stroke="#360000" stroke-width="1.05" fill="none" opacity="0.8"/>
<circle cx="514" cy="448" r="1.3" fill="#c4a0b4"/><circle cx="520.6" cy="451" r="1.1" fill="#f2b4b4"/><circle cx="518.6" cy="454.6" r="1" fill="#f0a8a8"/><circle cx="522.5" cy="454" r="0.9" fill="#f0a0a0"/>
</g>
</g>
<g id="ann">
<path d="M93 82.6L110 94.6" stroke="#111" stroke-width="0.9" fill="none"/>
<path d="M260 1L282 13.5" stroke="#111" stroke-width="0.9" fill="none"/>
<path d="M97.6 84.4L258.97 7.07" stroke="#111" stroke-width="0.9" fill="none"/><polygon points="263.3,5 257.12,10.62 255.05,6.29" fill="#000"/><polygon points="97.6,84.4 105.85,83.11 103.78,78.78" fill="#000"/>
<path d="M367.5 54L446.22 60.32" stroke="#111" stroke-width="0.9" fill="none"/><polygon points="451,60.7 442.83,62.45 443.22,57.67" fill="#000"/>
<path d="M364.5 77.5L443.8 94.3" stroke="#111" stroke-width="0.9" fill="none"/><polygon points="448.5,95.3 440.18,95.99 441.17,91.29" fill="#000"/>
<path d="M474.8 111.5L496.54 166.54" stroke="#111" stroke-width="0.9" fill="none"/><polygon points="498.3,171 493.13,164.44 497.59,162.68" fill="#000"/>
<path d="M181.3 128L190.91 247.42" stroke="#111" stroke-width="0.9" fill="none"/><polygon points="191.3,252.2 188.27,244.42 193.05,244.03" fill="#000"/>
<path d="M243.6 341L200.56 272.66" stroke="#111" stroke-width="0.9" fill="none"/><polygon points="198,268.6 204.29,274.09 200.23,276.65" fill="#000"/>
<path d="M402.2 254L340.05 423.99" stroke="#111" stroke-width="0.9" fill="none"/><polygon points="338.4,428.5 338.89,420.16 343.4,421.81" fill="#000"/>
<path d="M411 244L481.76 330.49" stroke="#111" stroke-width="0.9" fill="none"/><polygon points="484.8,334.2 477.88,329.53 481.59,326.49" fill="#000"/>
<path d="M268.4 382.6L325.18 425.7" stroke="#111" stroke-width="0.9" fill="none"/><polygon points="329,428.6 321.18,425.67 324.08,421.85" fill="#000"/>
<path d="M278.6 341.2L302 341.2" stroke="#111" stroke-width="0.9" fill="none"/>
<path d="M278.6 375.6L302 375.6" stroke="#111" stroke-width="0.9" fill="none"/>
<path d="M293.5 342L293.5 369.6" stroke="#111" stroke-width="0.9" fill="none"/><polygon points="293.5,375 290.9,366 296.1,366" fill="#000"/><polygon points="293.5,342 290.9,351 296.1,351" fill="#000"/>
<path d="M67.4 341.2L91.4 341.2" stroke="#111" stroke-width="0.9" fill="none"/>
<path d="M67.4 549.4L91.4 549.4" stroke="#111" stroke-width="0.9" fill="none"/>
<path d="M73.7 342.2L73.7 543.2" stroke="#111" stroke-width="0.9" fill="none"/><polygon points="73.7,548.6 71.1,539.6 76.3,539.6" fill="#000"/><polygon points="73.7,342.2 71.1,351.2 76.3,351.2" fill="#000"/>
<path d="M91.6 549.4L91.6 573.4" stroke="#111" stroke-width="0.9" fill="none"/>
<path d="M278.4 549.4L278.4 573.4" stroke="#111" stroke-width="0.9" fill="none"/>
<path d="M92.4 564L272.2 564" stroke="#111" stroke-width="0.9" fill="none"/><polygon points="277.6,564 268.6,566.6 268.6,561.4" fill="#000"/><polygon points="92.4,564 101.4,566.6 101.4,561.4" fill="#000"/>
</g>
<g id="triads">
<path d="M41.5 227.5L22 238.6" stroke="#1414cc" stroke-width="4"/>
<polygon points="18,241.6 24.4,231.4 30.8,242" fill="#1010c4"/>
<path d="M41.5 227.5L61 238.6" stroke="#c41414" stroke-width="4"/>
<polygon points="65.4,241.6 52.4,242 58.8,231.2" fill="#a81010"/>
<path d="M41.3 228.4V210" stroke="url(#gsh)" stroke-width="4.2"/>
<polygon points="41.2,200.4 35.4,212 47,212" fill="#18cc18"/>
<path d="M8 536V513" stroke="url(#gsh2)" stroke-width="4.6"/>
<polygon points="8,503 2.4,514.8 13.6,514.8" fill="#1ad21a"/>
<path d="M10 538.4H33" stroke="#d01010" stroke-width="4.4"/>
<polygon points="43.4,538.4 31.2,532.8 31.2,544" fill="#b01010"/>
<circle cx="8" cy="538.4" r="4.9" fill="#1414c4"/>
<path d="M5.5 541.5L10.5 535.5" stroke="#06064a" stroke-width="0.7"/>
</g>
<g id="txt" font-family="'Liberation Serif', serif" fill="#111">
<text x="452" y="68.8" font-style="italic" font-size="20">Soil</text>
<text x="450" y="106.8" font-style="italic" font-size="20">Pipe</text>
<text x="157" y="266.8" font-style="italic" font-size="20" textLength="108" lengthAdjust="spacingAndGlyphs">Loading area</text>
<text x="300.6" y="364.4" font-style="italic" font-size="20">H=1m</text>
<text x="327.5" y="444" font-style="italic" font-size="20">R=0.33m</text>
<text x="158.6" y="590.6" font-style="italic" font-size="20">W=5m</text>
<text transform="translate(61.8 470.8) rotate(-90)" font-style="italic" font-size="20">H=6m</text>
<text transform="translate(153.6 54.6) rotate(-28.5)" font-style="italic" font-size="19.5">L=10m</text>
<text x="20.5" y="272.4" font-size="19.6">(a)</text>
<text x="555.2" y="264.2" font-size="19.6">(b)</text>
<text x="20.5" y="575.8" font-size="19.6">(c)</text>
<text x="555" y="576" font-size="19.6">(d)</text>
</g>
<g font-family="'Liberation Serif', serif" font-size="13.5" fill="#3c3c3c" text-anchor="middle">
<text transform="translate(41 192.3) scale(0.6 1)">Y</text>
<text transform="translate(8 250.8) scale(0.72 1)">Z</text>
<text transform="translate(74.6 250.8) scale(0.6 1)">X</text>
<text transform="translate(7.5 492.3) scale(0.6 1)">Y</text>
<text transform="translate(57.4 541.8) scale(0.6 1)">X</text>
</g>
</svg>
</body></html>
